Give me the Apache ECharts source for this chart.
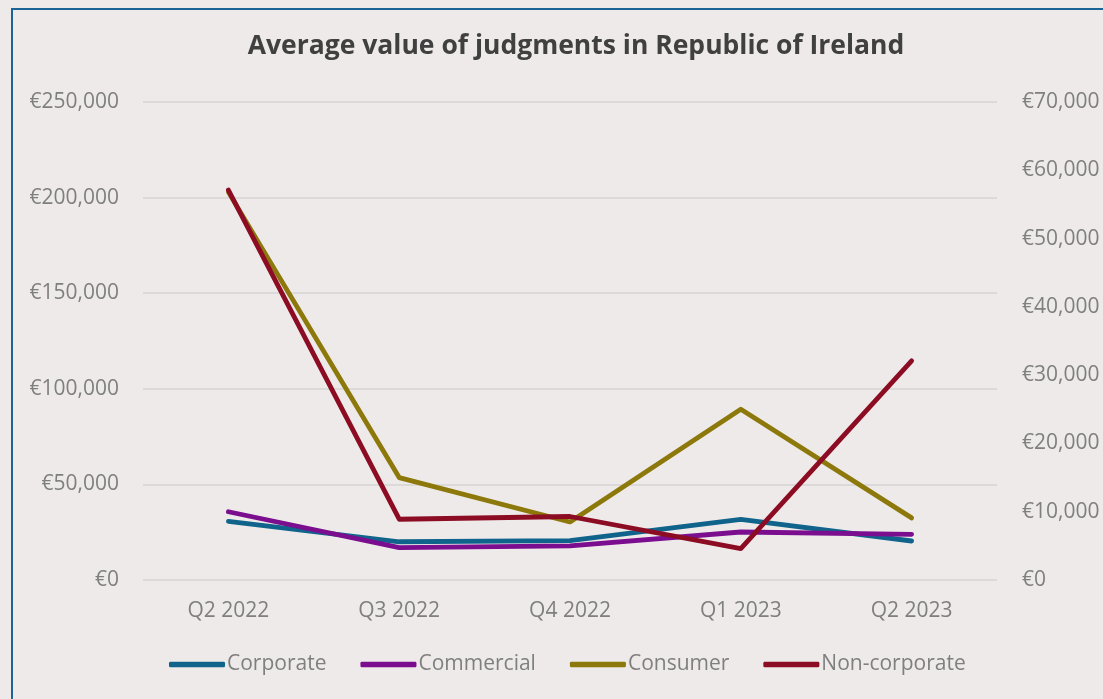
<!DOCTYPE html>
<html>
<head>
<meta charset="utf-8">
<script src="https://cdn.jsdelivr.net/npm/echarts@6/dist/echarts.min.js"></script>
<style>
html,body{margin:0;padding:0;background:#EEEAE9;}
#chart{width:1103px;height:699px;}
</style>
</head>
<body>
<div id="chart"></div>
<script>
const categories = ['Q2 2022', 'Q3 2022', 'Q4 2022', 'Q1 2023', 'Q2 2023'];
const corporate = [30700, 20000, 20600, 31700, 20400];
const commercial = [35700, 16900, 17800, 25100, 23900];
const consumer = [56800, 15000, 8500, 25000, 9100];
const nonCorporate = [57100, 8900, 9300, 4600, 32100];
const leftTicks = { min: 0, max: 250000, interval: 50000 };
const rightTicks = { min: 0, max: 70000, interval: 10000 };

const fmt = v => '€' + v.toLocaleString('en-US');
const FONT = 'Open Sans';
const GRAY = '#7F7F7F';

const chart = echarts.init(document.getElementById('chart'));
function mk(name, data, color, axis) {
  return {
    name, type: 'line', data, yAxisIndex: axis,
    symbol: 'none', smooth: false,
    lineStyle: { color, width: 4.8, cap: 'round', join: 'round' },
    itemStyle: { color },
    emphasis: { disabled: true }
  };
}
chart.setOption({
  backgroundColor: '#EEEAE9',
  animation: false,
  title: {
    text: 'Average value of judgments in Republic of Ireland',
    left: 571, top: 28, textAlign: 'center',
    textStyle: { fontFamily: FONT, fontWeight: 'bold', fontSize: 26.5, color: '#404040' }
  },
  graphic: [{
    type: 'rect', shape: { x: 12, y: 9, width: 1300, height: 900 },
    style: { fill: 'none', stroke: '#1A6496', lineWidth: 2 }, silent: true
  }],
  legend: {
    bottom: 19, left: 164,
    itemWidth: 56, itemHeight: 5.5, itemGap: 34,
    icon: 'roundRect',
    textStyle: { fontFamily: FONT, fontSize: 21, color: GRAY, padding: [0, 0, 0, -3] },
    data: ['Corporate', 'Commercial', 'Consumer', 'Non-corporate']
  },
  grid: { left: 143, right: 106, top: 102, bottom: 119, containLabel: false },
  xAxis: {
    type: 'category', data: categories, boundaryGap: true,
    axisLine: { show: false }, axisTick: { show: false },
    axisLabel: { fontFamily: FONT, fontSize: 21, color: GRAY, margin: 21 }
  },
  yAxis: [{
    type: 'value', ...leftTicks,
    axisLine: { show: false }, axisTick: { show: false },
    splitLine: { lineStyle: { color: '#DCDAD8', width: 2 } },
    axisLabel: { fontFamily: FONT, fontSize: 21, color: GRAY, margin: 24, formatter: fmt }
  }, {
    type: 'value', ...rightTicks, position: 'right',
    axisLine: { show: false }, axisTick: { show: false },
    splitLine: { show: false },
    axisLabel: { fontFamily: FONT, fontSize: 21, color: GRAY, margin: 25, formatter: fmt }
  }],
  series: [
    mk('Corporate', corporate, '#10648C', 0),
    mk('Commercial', commercial, '#7B0D8F', 0),
    mk('Consumer', consumer, '#8C780B', 1),
    mk('Non-corporate', nonCorporate, '#8C0C23', 1)
  ]
});
</script>
</body>
</html>
